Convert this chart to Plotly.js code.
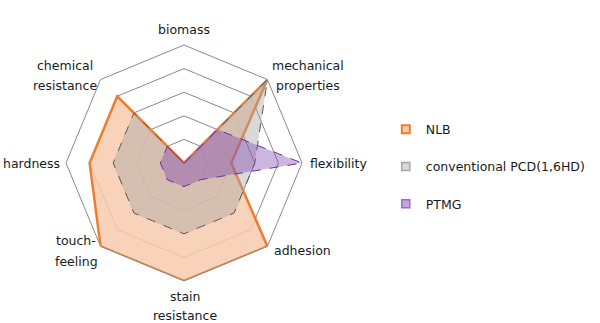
<!DOCTYPE html>
<html>
<head>
<meta charset="utf-8">
<script src="https://cdn.plot.ly/plotly-3.0.1.min.js"></script>
<style>html,body{margin:0;padding:0;background:#fff;}#chart{width:600px;height:323px;}</style>
</head>
<body>
<div id="chart"></div>
<script>
var categories = ["biomass", "mechanical<br>properties", "flexibility", "adhesion", "stain<br>resistance", "touch-<br>feeling", "hardness", "chemical<br>resistance"];
var seriesNames = ["NLB", "conventional PCD(1,6HD)", "PTMG"];
var nlbValues = [0, 5, 2, 5, 5, 5, 4, 4];
var pcdValues = [0, 5, 3, 3, 3, 3, 3, 3];
var ptmgValues = [0, 2, 5, 1, 1, 1, 1, 1];

// label placement (pixels of the 600x323 page): x, first line y, horizontal anchor, line gap
var labelPlacement = [
  {x: 184, y: 30, a: "center", g: 21},
  {x: 308, y: 65, a: "center", g: 21},
  {x: 308, y: 163, a: "left", g: 21},
  {x: 272, y: 250, a: "left", g: 21},
  {x: 185, y: 296, a: "center", g: 19},
  {x: 76, y: 240, a: "center", g: 21},
  {x: 62, y: 163, a: "right", g: 21},
  {x: 65, y: 65, a: "center", g: 21}
];
var W = 600, H = 323;

var styles = [
  {line: {color: "#ED7D31", width: 2.5}, fill: "rgba(248,203,173,0.85)", mfill: "#F8CBAD", mline: "#ED7D31"},
  {line: {color: "#595959", width: 1, dash: "dash"}, fill: "rgba(165,165,165,0.42)", mfill: "#D9D9D9", mline: "#A6A6A6"},
  {line: {color: "#7030A0", width: 1, dash: "dash"}, fill: "rgba(120,60,175,0.38)", mfill: "#C5A6E3", mline: "#9A6CC8"}
];
var seriesValues = [nlbValues, pcdValues, ptmgValues];

function closed(a) { return a.concat([a[0]]); }

var traces = [];
seriesValues.forEach(function (vals, i) {
  traces.push({
    type: "scatterpolar", name: seriesNames[i], showlegend: false,
    r: closed(vals), theta: closed(categories),
    fill: "toself", fillcolor: styles[i].fill,
    line: styles[i].line, mode: "lines", hoverinfo: "skip"
  });
});
// legend entries (square swatches)
seriesValues.forEach(function (vals, i) {
  traces.push({
    type: "scatterpolar", name: seriesNames[i], legendgroup: "g" + i,
    r: [null], theta: [categories[0]], mode: "markers",
    marker: {symbol: "square", size: 8, color: styles[i].mfill, line: {color: styles[i].mline, width: i === 0 ? 2 : 1.5}},
    hoverinfo: "skip"
  });
});

var annotations = [];
categories.forEach(function (c, i) {
  var p = labelPlacement[i];
  c.split("<br>").forEach(function (txt, k) {
    annotations.push({
      xref: "paper", yref: "paper", x: p.x / W, y: 1 - (p.y + k * p.g) / H,
      xanchor: p.a, yanchor: "middle", text: txt, showarrow: false,
      font: {family: "DejaVu Sans, Verdana, sans-serif", size: 12.5, color: "#1a1a1a"}
    });
  });
});

var layout = {
  width: W, height: H,
  margin: {l: 0, r: 0, t: 0, b: 0},
  paper_bgcolor: "#fff",
  font: {family: "DejaVu Sans, Verdana, sans-serif", size: 12, color: "#1a1a1a"},
  showlegend: true,
  annotations: annotations,
  legend: {
    x: 0.643, y: 0.645, xanchor: "left", yanchor: "top",
    traceorder: "grouped", tracegroupgap: 18,
    font: {family: "DejaVu Sans, Verdana, sans-serif", size: 12.5, color: "#1a1a1a"},
    bgcolor: "rgba(0,0,0,0)"
  },
  polar: {
    domain: {x: [66 / W, 302 / W], y: [1 - 281 / H, 1 - 45 / H]},
    bgcolor: "#fff",
    gridshape: "linear",
    angularaxis: {
      rotation: 90, direction: "clockwise",
      showgrid: false, showline: true, linecolor: "#8a8a8a", linewidth: 1,
      ticks: "", showticklabels: false
    },
    radialaxis: {
      range: [0, 5], dtick: 1, tick0: 0,
      showticklabels: false, ticks: "", showline: false,
      gridcolor: "#8a8a8a", gridwidth: 1
    }
  }
};

Plotly.newPlot("chart", traces, layout, {displayModeBar: false, staticPlot: true});
</script>
</body>
</html>
